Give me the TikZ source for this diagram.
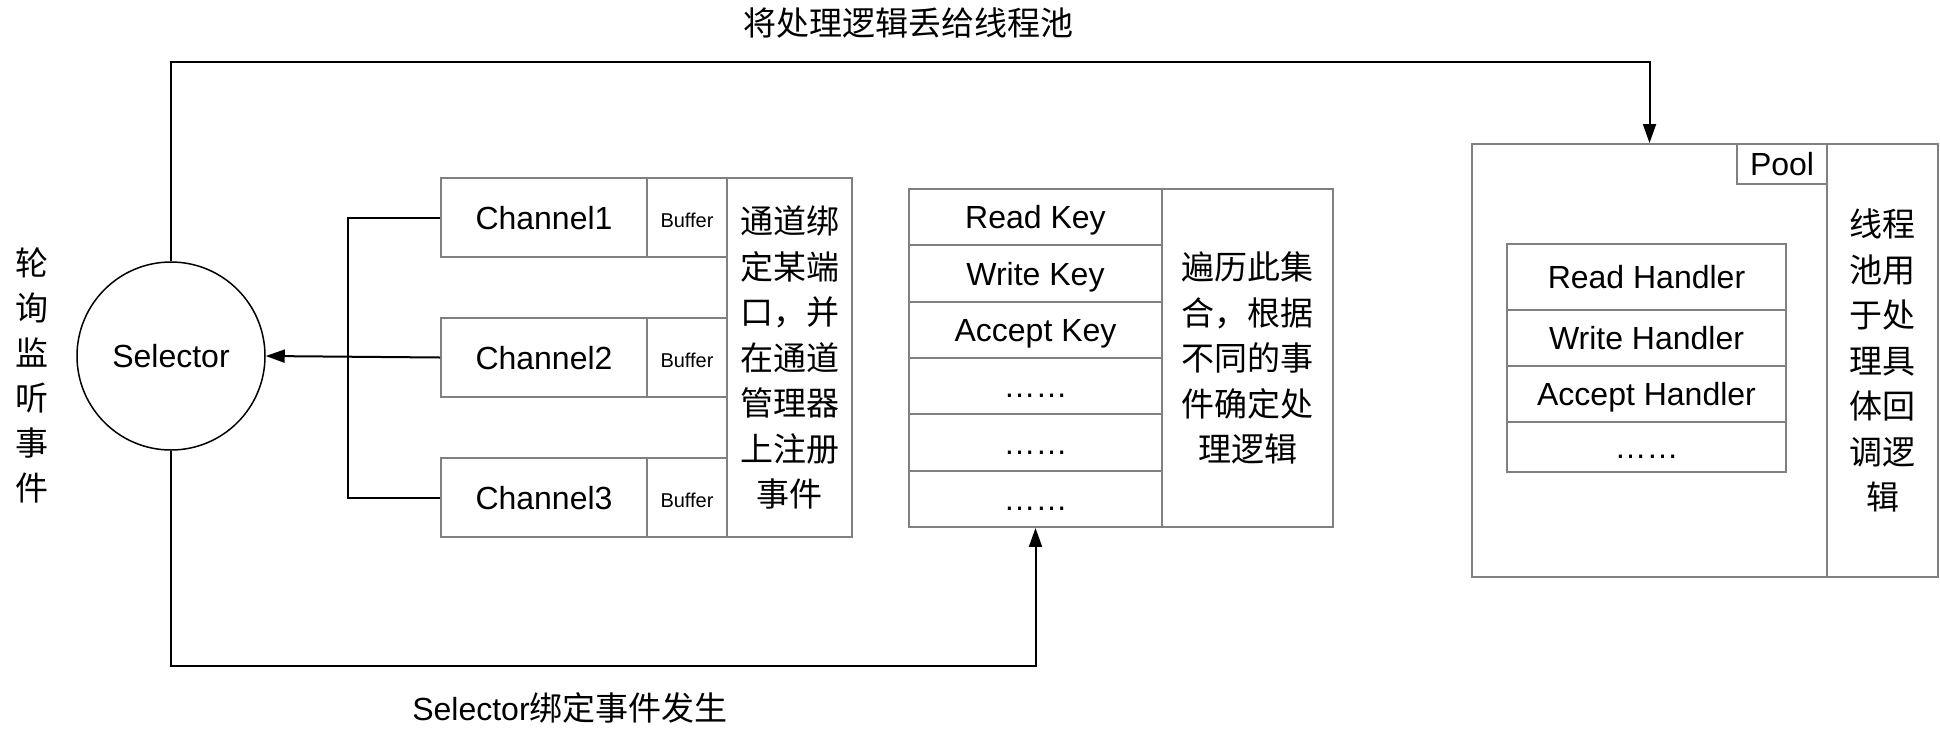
\documentclass[tikz,border=0pt]{standalone}
\usepackage{fontspec}
\setmainfont{Liberation Sans}
\newfontfamily\cjk{Noto Sans CJK SC}
\usetikzlibrary{arrows.meta}
\definecolor{boxgray}{RGB}{128,128,128}
\tikzset{
  box/.style={draw=boxgray, line width=2pt, inner sep=0pt},
  cell/.style={box, font=\fontsize{32}{38}\selectfont, text height=30pt, text depth=7pt},
  bufcell/.style={box, font=\fontsize{20}{24}\selectfont, text height=22pt, text depth=3pt},
  cjkcol/.style={box, align=center, font=\cjk\fontsize{33}{45.5}\selectfont},
  link/.style={line width=2pt, black},
  arr/.style={link, -{Triangle[length=19pt,width=13pt]}}
}
\begin{document}
\begin{tikzpicture}[x=1pt,y=-1pt]
\useasboundingbox (0,0) rectangle (1940,737);
% Selector
\node (sel) [circle, draw, line width=1.5pt, minimum size=188pt, inner sep=0pt, font=\fontsize{32}{38}\selectfont] at (171,356) {Selector};
\node (poll) [align=center, font=\cjk\fontsize{33}{45}\selectfont] at (32,375.5) {轮\\询\\监\\听\\事\\件};
% Channels
\node (c1) [cell, minimum width=206pt, minimum height=79pt] at (544,217.5) {Channel1};
\node (b1) [bufcell, minimum width=80pt, minimum height=79pt] at (687,217.5) {Buffer};
\node (c2) [cell, minimum width=206pt, minimum height=79pt] at (544,357.5) {Channel2};
\node (b2) [bufcell, minimum width=80pt, minimum height=79pt] at (687,357.5) {Buffer};
\node (c3) [cell, minimum width=206pt, minimum height=79pt] at (544,497.5) {Channel3};
\node (b3) [bufcell, minimum width=80pt, minimum height=79pt] at (687,497.5) {Buffer};
\node (reg) [cjkcol, minimum width=125pt, minimum height=359pt] at (789.5,357.5) {通道绑\\定某端\\口，并\\在通道\\管理器\\上注册\\事件};
% Keys
\node (k1) [cell, minimum width=253pt, minimum height=56.33pt] at (1035.5,217.2) {Read Key};
\node (k2) [cell, minimum width=253pt, minimum height=56.33pt] at (1035.5,273.5) {Write Key};
\node (k3) [cell, minimum width=253pt, minimum height=56.33pt] at (1035.5,329.8) {Accept Key};
\node (k4) [cell, minimum width=253pt, minimum height=56.33pt] at (1035.5,386.2) {……};
\node (k5) [cell, minimum width=253pt, minimum height=56.33pt] at (1035.5,442.5) {……};
\node (k6) [cell, minimum width=253pt, minimum height=56.33pt] at (1035.5,498.8) {……};
\node (keytxt) [cjkcol, minimum width=171pt, minimum height=338pt] at (1247.5,358) {遍历此集\\合，根据\\不同的事\\件确定处\\理逻辑};
% Pool
\node (pool) [box, minimum width=355pt, minimum height=433pt] at (1649.5,360.5) {};
\node (pooltxt) [cjkcol, minimum width=111pt, minimum height=433pt] at (1882.5,360.5) {线程\\池用\\于处\\理具\\体回\\调逻\\辑};
\node (plabel) [cell, minimum width=90pt, minimum height=39.5pt, text height=26pt, text depth=3pt] at (1782,163.75) {Pool};
\node (h1) [cell, minimum width=279pt, minimum height=66pt] at (1646.5,277) {Read Handler};
\node (h2) [cell, minimum width=279pt, minimum height=56pt] at (1646.5,338) {Write Handler};
\node (h3) [cell, minimum width=279pt, minimum height=56pt] at (1646.5,394) {Accept Handler};
\node (h4) [cell, minimum width=279pt, minimum height=50pt] at (1646.5,447) {……};
% labels
\node (toplbl) [font=\cjk\fontsize{33}{40}\selectfont] at (908,23) {将处理逻辑丢给线程池};
\node (botlbl) [font=\fontsize{32}{40}\selectfont] at (570,708) {Selector{\cjk\fontsize{33}{40}\selectfont 绑定事件发生}};
% connectors
\coordinate (bus) at (348,217.5);
\draw [link] (c1.west) -- (bus) |- (c3.west);
\draw [arr] (c2.west) -- (sel.east);
\draw [arr] (sel.north) |- ([yshift=81pt]pool.north) -- (pool.north);
\draw [arr] (sel.south) |- ([yshift=-138pt]k6.south) -- (k6.south);
\end{tikzpicture}
\end{document}
